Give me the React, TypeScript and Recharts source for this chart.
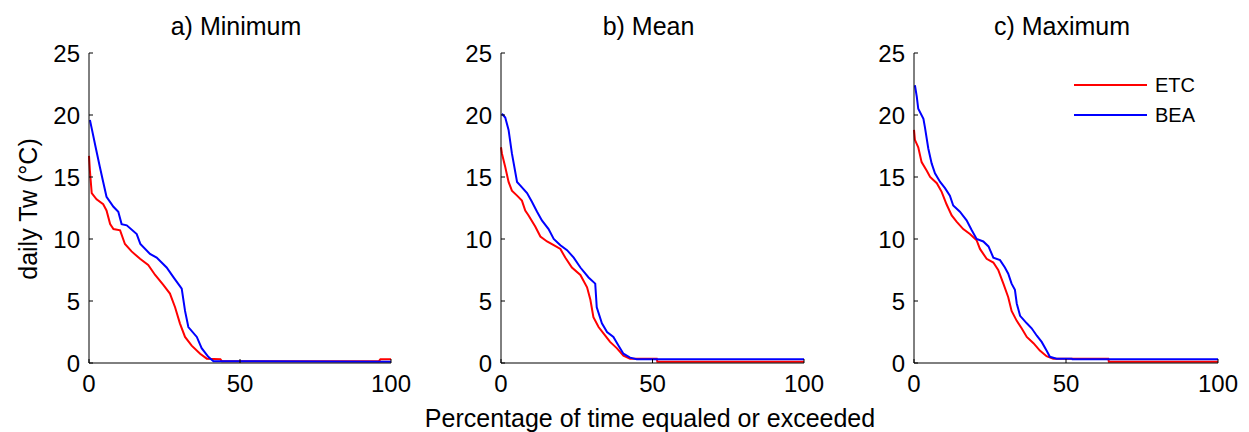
import React from "react";
import { LineChart, Line, XAxis, YAxis } from "recharts";

// [percent of time, daily Tw]
const minEtc: number[][] = [
  [0, 16.7], [0.3, 15.5], [0.9, 13.7], [2.5, 13.2], [4.7, 12.8], [5.8, 12.3], [7, 11.2],
  [8.1, 10.8], [10.3, 10.7], [11.9, 9.6], [14.1, 9.0], [16.9, 8.4], [19.6, 7.9], [21.9, 7.1],
  [24.6, 6.3], [26.8, 5.6], [28.5, 4.5], [30.1, 3.2], [31.8, 2.1], [34, 1.4], [36.8, 0.75],
  [39, 0.35], [43.5, 0.3], [44, 0.15], [96, 0.15], [96.5, 0.3], [100, 0.3],
];
const minBea: number[][] = [
  [0.3, 19.6], [1, 18.8], [2.2, 17.4], [3.6, 15.8], [4.7, 14.6], [5.8, 13.4], [8.1, 12.6],
  [9.7, 12.2], [10.8, 11.2], [12.5, 11.1], [15.8, 10.4], [17, 9.6], [20.2, 8.8], [22.4, 8.5],
  [25.7, 7.7], [28, 6.9], [30.7, 6.0], [31.8, 4.2], [32.9, 2.9], [35.7, 2.1], [37.3, 1.2],
  [39.5, 0.5], [41.2, 0.15], [100, 0.1],
];
const meanEtc: number[][] = [
  [0, 17.4], [0.3, 16.9], [1.4, 15.8], [2.5, 14.6], [3.6, 13.9], [5.3, 13.5], [6.9, 13.1],
  [8, 12.3], [9.1, 11.9], [11.3, 11.0], [13, 10.2], [15.2, 9.8], [17.4, 9.5], [19.6, 9.2],
  [21.2, 8.5], [23.4, 7.7], [26.2, 7.1], [28.4, 6.1], [29.5, 5.1], [30.5, 3.7], [32.2, 2.9],
  [34.4, 2.2], [36, 1.7], [38.2, 1.2], [40.4, 0.6], [42.6, 0.35], [51.4, 0.35], [51.6, 0.1],
  [100, 0.1],
];
const meanBea: number[][] = [
  [0.3, 20.1], [1.4, 19.8], [2.5, 18.8], [3.6, 16.9], [5.3, 14.6], [6.4, 14.3], [8.6, 13.7],
  [10.2, 13.0], [11.9, 12.2], [13.5, 11.5], [15.7, 10.8], [17.4, 10.0], [19.6, 9.5], [21.8, 9.1],
  [24, 8.5], [26.2, 7.7], [28.9, 6.9], [31.1, 6.4], [31.6, 4.5], [33.3, 3.2], [35, 2.5],
  [37.1, 2.1], [38.8, 1.4], [40.4, 0.75], [42.6, 0.43], [44.8, 0.3], [100, 0.3],
];
const maxEtc: number[][] = [
  [0, 18.8], [0.3, 18.0], [1.4, 17.4], [2.5, 16.2], [4.2, 15.5], [5.3, 15.0], [7.5, 14.5],
  [9.1, 13.8], [10.7, 12.8], [12.4, 11.9], [14, 11.4], [16.2, 10.8], [18.4, 10.4], [20.6, 9.9],
  [21.7, 9.2], [23.9, 8.4], [26.1, 8.1], [27.7, 7.5], [29.4, 6.4], [31, 5.3], [32.1, 4.2],
  [33.8, 3.4], [35.4, 2.8], [37.1, 2.1], [39.3, 1.6], [41.4, 1.0], [43.6, 0.55], [45.8, 0.35],
  [63.9, 0.35], [64.1, 0.1], [100, 0.1],
];
const maxBea: number[][] = [
  [0.3, 22.4], [0.9, 21.5], [1.4, 20.5], [3.1, 19.7], [3.6, 19.0], [4.7, 17.3], [5.8, 16.1],
  [6.9, 15.3], [8.6, 14.6], [10.2, 14.1], [11.8, 13.5], [12.9, 12.7], [15.1, 12.2], [17.3, 11.5],
  [19, 10.7], [20.6, 10.0], [22.8, 9.8], [24.5, 9.4], [26.1, 8.5], [28.3, 8.3], [29.9, 7.7],
  [31, 7.2], [32.1, 6.4], [33.2, 5.9], [33.8, 4.8], [34.9, 3.8], [37.1, 3.2], [38.7, 2.8],
  [40.4, 2.2], [42, 1.7], [43.6, 1.0], [44.7, 0.5], [46.9, 0.35], [51.9, 0.35], [52.1, 0.3],
  [100, 0.3],
];

const titles = ["a) Minimum", "b) Mean", "c) Maximum"];
const seriesNames = ["ETC", "BEA"];
const seriesColors = ["#ff0000", "#0000ff"];
const xTicks = [0, 50, 100];
const yTicks = [0, 5, 10, 15, 20, 25];

const FONT = '"Liberation Sans", Arial, Helvetica, sans-serif';

const toPts = (arr: number[][]) => arr.map(([x, y]) => ({ x, y }));

// plot area: a 89-391, b 501-804, c 914-1218
const panels = [
  { left: 0, width: 416, mLeft: 44, mRight: 25, etc: minEtc, bea: minBea },
  { left: 400, width: 430, mLeft: 56, mRight: 26, etc: meanEtc, bea: meanBea },
  { left: 823, width: 424, mLeft: 46, mRight: 29, etc: maxEtc, bea: maxBea },
];

const tickStyle = { fontSize: 24, fill: "#000", fontFamily: FONT };

export default function App() {
  return (
    <div
      style={{
        position: "absolute",
        left: 0,
        top: 0,
        width: 1249,
        height: 432,
        background: "#fff",
        fontFamily: FONT,
        color: "#000",
        overflow: "hidden",
      }}
    >
      {panels.map((p, i) => {
        const plotLeft = p.left + p.mLeft + 45;
        const plotRight = p.left + p.width - p.mRight;
        return (
          <React.Fragment key={i}>
            <div style={{ position: "absolute", left: p.left, top: 0 }}>
              <LineChart
                width={p.width}
                height={432}
                margin={{ top: 53, right: p.mRight, bottom: 29, left: p.mLeft }}
              >
                <XAxis
                  type="number"
                  dataKey="x"
                  domain={[0, 100]}
                  ticks={xTicks}
                  height={40}
                  tickSize={-4}
                  tickMargin={16}
                  axisLine={{ stroke: "#000", strokeWidth: 1 }}
                  tickLine={{ stroke: "#000" }}
                  tick={tickStyle}
                  interval={0}
                />
                <YAxis
                  type="number"
                  dataKey="y"
                  domain={[0, 25]}
                  ticks={yTicks}
                  width={45}
                  tickSize={-4}
                  tickMargin={13}
                  axisLine={{ stroke: "#000", strokeWidth: 1 }}
                  tickLine={{ stroke: "#000" }}
                  tick={tickStyle}
                  interval={0}
                />
                <Line
                  data={toPts(p.etc)}
                  dataKey="y"
                  name={seriesNames[0]}
                  stroke={seriesColors[0]}
                  strokeWidth={2}
                  dot={false}
                  isAnimationActive={false}
                />
                <Line
                  data={toPts(p.bea)}
                  dataKey="y"
                  name={seriesNames[1]}
                  stroke={seriesColors[1]}
                  strokeWidth={2}
                  dot={false}
                  isAnimationActive={false}
                />
              </LineChart>
            </div>
            <div
              style={{
                position: "absolute",
                left: (plotLeft + plotRight) / 2 - 4 - 150,
                width: 300,
                top: 12,
                textAlign: "center",
                fontSize: 25,
                lineHeight: "28px",
              }}
            >
              {titles[i]}
            </div>
          </React.Fragment>
        );
      })}

      <div
        style={{
          position: "absolute",
          left: 28 - 100,
          top: 209 - 14,
          width: 200,
          height: 28,
          lineHeight: "28px",
          textAlign: "center",
          fontSize: 25,
          transform: "rotate(-90deg)",
        }}
      >
        daily Tw (°C)
      </div>

      <div
        style={{
          position: "absolute",
          left: 650 - 300,
          width: 600,
          top: 404,
          textAlign: "center",
          fontSize: 25,
          lineHeight: "28px",
        }}
      >
        Percentage of time equaled or exceeded
      </div>

      {seriesNames.map((name, k) => (
        <div
          key={name}
          style={{ position: "absolute", left: 1074, top: 85 + k * 30 - 12, height: 24, display: "flex", alignItems: "center" }}
        >
          <div style={{ width: 73, height: 2, background: seriesColors[k] }} />
          <span style={{ marginLeft: 8, fontSize: 20, lineHeight: "24px" }}>{name}</span>
        </div>
      ))}
    </div>
  );
}
